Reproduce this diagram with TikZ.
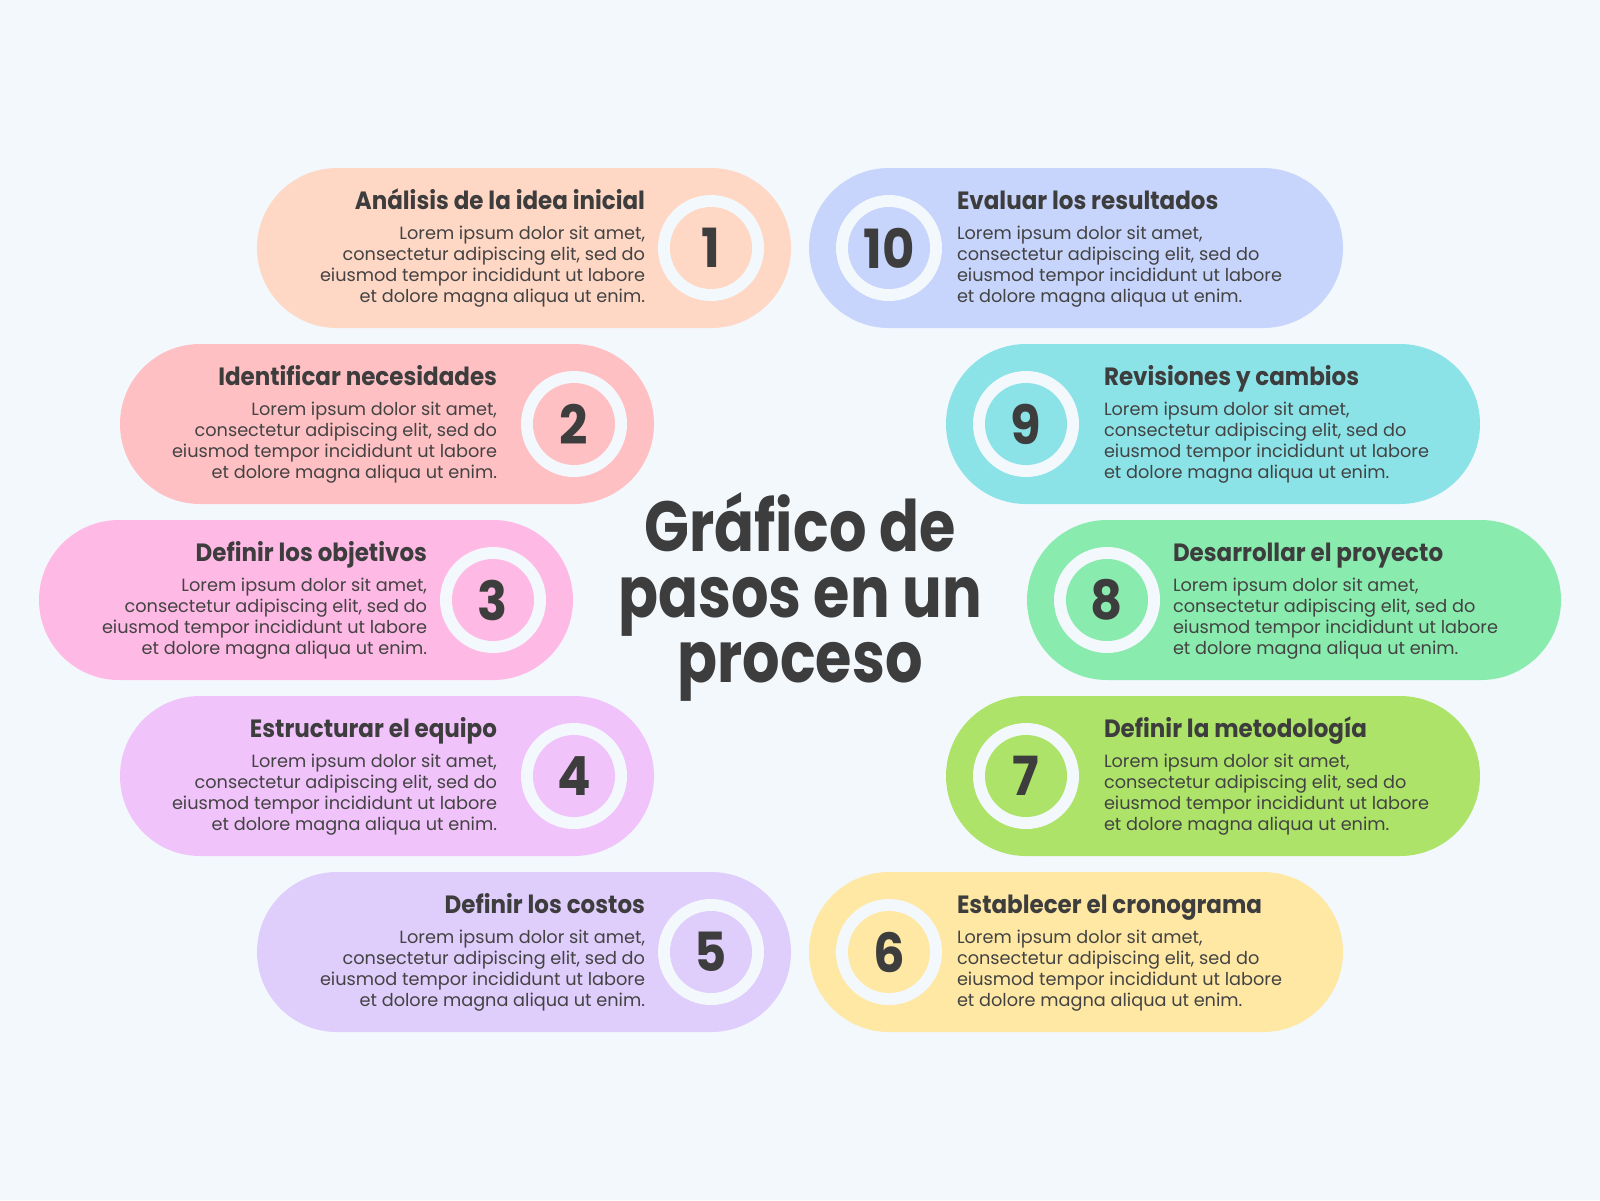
\documentclass[tikz,border=0pt]{standalone}
\usepackage{fontspec}
\setmainfont{Poppins}
\newfontfamily\headfont{Poppins}[FakeStretch=0.83]
\newfontfamily\stepfont{Poppins}[FakeStretch=0.92]
\definecolor{bg}{HTML}{F3F8FD}
\definecolor{ink}{HTML}{3D3D3D}
\definecolor{bodyink}{HTML}{434343}
\definecolor{c1}{HTML}{FFD7C5}
\definecolor{c2}{HTML}{FFC0C4}
\definecolor{c3}{HTML}{FFB9E5}
\definecolor{c4}{HTML}{F0C3FA}
\definecolor{c5}{HTML}{DFCDFC}
\definecolor{c6}{HTML}{FFE8A4}
\definecolor{c7}{HTML}{ADE368}
\definecolor{c8}{HTML}{89EBAD}
\definecolor{c9}{HTML}{8BE3E8}
\definecolor{c10}{HTML}{C7D4FB}
\tikzset{
  pill/.style={rectangle, rounded corners=80pt, minimum width=534pt, minimum height=160pt, inner sep=0pt},
  ring/.style={circle, fill=bg, minimum size=106pt, inner sep=0pt},
  disc/.style={circle, minimum size=82pt, inner sep=0pt, font=\stepfont\bfseries\fontsize{54}{54}\selectfont, text=ink},
  ttl/.style={font=\stepfont\bfseries\fontsize{25}{25}\selectfont, text=ink, inner sep=0pt},
  body/.style={font=\fontsize{17.7}{21}\selectfont, text=bodyink, inner sep=0pt}
}
\newcommand\lorem{Lorem ipsum dolor sit amet,\\consectetur adipiscing elit, sed do\\eiusmod tempor incididunt ut labore\\et dolore magna aliqua ut enim.}
% #1 name, #2 x, #3 y, #4 colour, #5 number, #6 title, #7 text offset from pill edge
\newcommand\stepleft[7]{%
  \node[pill, fill=#4] (#1) at (#2,#3) {};
  \node[ring] (#1r) at ([xshift=187pt]#1.center) {};
  \node[disc, fill=#4] (#1n) at (#1r) {#5};
  \node[ttl, anchor=base east] (#1t) at ([xshift=-#7pt,yshift=39pt]#1.east) {#6};
  \node[body, anchor=north east, align=right] (#1b) at ([xshift=-#7pt,yshift=22.5pt]#1.east) {\lorem};
}
\newcommand\stepright[7]{%
  \node[pill, fill=#4] (#1) at (#2,#3) {};
  \node[ring] (#1r) at ([xshift=-187pt]#1.center) {};
  \node[disc, fill=#4] (#1n) at (#1r) {#5};
  \node[ttl, anchor=base west] (#1t) at ([xshift=#7pt,yshift=39pt]#1.west) {#6};
  \node[body, anchor=north west, align=left] (#1b) at ([xshift=#7pt,yshift=22.5pt]#1.west) {\lorem};
}
\begin{document}
\begin{tikzpicture}[x=1pt,y=-1pt]
\fill[bg] (0,0) rectangle (1600,1200);
\stepleft{p1}{524}{248}{c1}{1}{Análisis de la idea inicial}{146}
\stepleft{p2}{387}{424}{c2}{2}{Identificar necesidades}{157}
\stepleft{p3}{306}{600}{c3}{3}{Definir los objetivos}{146}
\stepleft{p4}{387}{776}{c4}{4}{Estructurar el equipo}{157}
\stepleft{p5}{524}{952}{c5}{5}{Definir los costos}{146}
\stepright{p6}{1076}{952}{c6}{6}{Establecer el cronograma}{148}
\stepright{p7}{1213}{776}{c7}{7}{Definir la metodología}{158}
\stepright{p8}{1294}{600}{c8}{8}{Desarrollar el proyecto}{146}
\stepright{p9}{1213}{424}{c9}{9}{Revisiones y cambios}{158}
\stepright{p10}{1076}{248}{c10}{10}{Evaluar los resultados}{148}
\node[font=\headfont\bfseries\fontsize{71}{65.5}\selectfont, text=ink, align=center, inner sep=0pt] (title) at (800,597) {Gráfico de\\pasos en un\\proceso};
\end{tikzpicture}
\end{document}
